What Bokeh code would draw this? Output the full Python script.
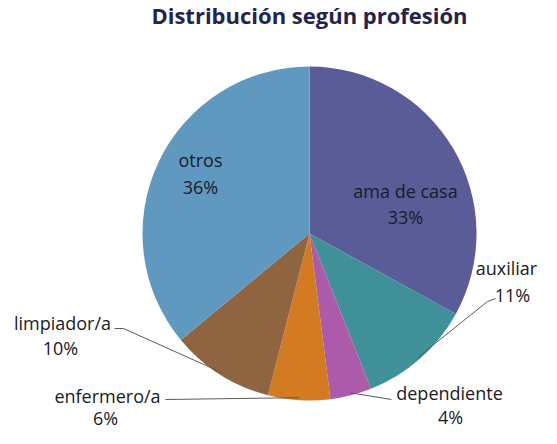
import math
from bokeh.plotting import figure
from bokeh.models import Range1d
from bokeh.core.properties import value
from bokeh.embed import file_html
from bokeh.resources import INLINE

# ---- data ----
categories = ["ama de casa", "auxiliar", "dependiente", "enfermero/a", "limpiador/a", "otros"]
percentages = [33, 11, 4, 6, 10, 36]
slice_colors = ["#5A5C97", "#40909A", "#AC5BAA", "#D27B22", "#8F6541", "#6099C0"]
title_text = "Distribución según profesión"

# ---- layout (reference pixel coordinates, y downward) ----
W, H = 541, 428
X0 = 5                      # ref x shown at figure left edge
YTOP = 14                   # ref y shown at figure top edge
CX, CY, R = 314, 247, 167   # pie centre / radius

def Y(v):
    return (YTOP + H) - v

label_pos = {
    "ama de casa": ((410, 204), (410, 230)),
    "otros": ((205, 173), (205, 200)),
    "auxiliar": ((511, 281), (517, 308)),
    "dependiente": ((454, 406), (455, 430)),
    "limpiador/a": ((67, 336), (65, 361)),
    "enfermero/a": ((112, 409), (110, 431)),
}
leader_pts = {
    "auxiliar": [(492, 315), (500, 312)],
    "dependiente": [(396, 413)],
    "limpiador/a": [(128, 342), (119, 342)],
    "enfermero/a": [(170, 413)],
}

p = figure(width=W, height=H, x_range=Range1d(X0, X0 + W), y_range=Range1d(0, H),
           output_backend="svg", toolbar_location=None, min_border=0)
p.axis.visible = False
p.grid.visible = False
p.outline_line_color = None
p.background_fill_color = "white"
p.border_fill_color = "white"

total = sum(percentages)
starts, ends, mids = [], [], []
cum = 0
for v in percentages:
    s = math.pi / 2 - 2 * math.pi * cum / total
    e = s - 2 * math.pi * v / total
    starts.append(s); ends.append(e); mids.append((s + e) / 2)
    cum += v

p.wedge(x=[CX] * len(categories), y=[Y(CY)] * len(categories), radius=R,
        start_angle=starts, end_angle=ends, direction="clock",
        fill_color=slice_colors, line_color=None)

# leader lines
for cat, pts in leader_pts.items():
    i = categories.index(cat)
    ex = CX + R * 0.985 * math.cos(mids[i])
    ey = Y(CY) + R * 0.985 * math.sin(mids[i])
    xs = [ex] + [q[0] for q in pts]
    ys = [ey] + [Y(q[1]) for q in pts]
    p.line(xs, ys, line_color="#5a5a5a", line_width=1)

# labels
lx, ly, lt = [], [], []
for cat, pct in zip(categories, percentages):
    (nx, ny), (px_, py) = label_pos[cat]
    lx += [nx, px_]; ly += [Y(ny), Y(py)]; lt += [cat, f"{pct}%"]
p.text(x=lx, y=ly, text=lt, text_font=value("Open Sans"), text_font_size="18px",
       text_align="center", text_baseline="middle", text_color="#1a1a28")

# title
p.text(x=[CX], y=[Y(28)], text=[title_text], text_font=value("Open Sans"),
       text_font_size="22px", text_font_style="bold", text_align="center",
       text_baseline="middle", text_color="#23234f")

open("out.html", "w").write(file_html(p, INLINE))
